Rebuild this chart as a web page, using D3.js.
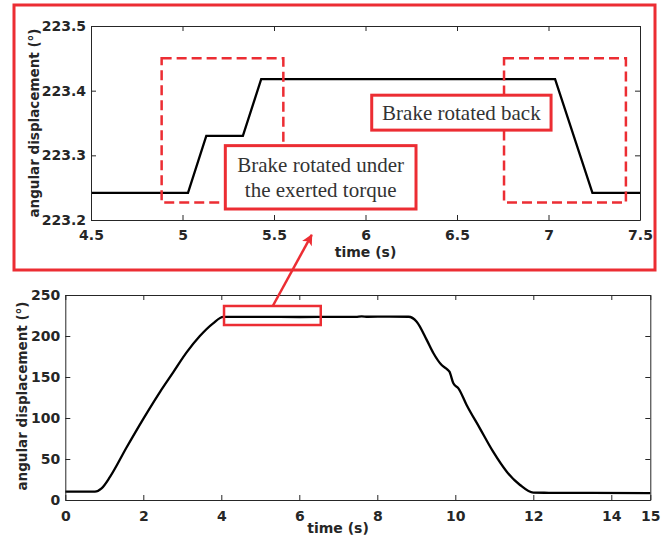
<!DOCTYPE html>
<html>
<head>
<meta charset="utf-8">
<script src="https://cdn.jsdelivr.net/npm/d3@7"></script>
<style>
  body { margin: 0; background: #fff; }
  .tick text { font-family: "DejaVu Sans", sans-serif; font-weight: bold; font-size: 14px; fill: #262626; }
  .tick line, .domain { stroke: #262626; }
  .axisTitle { font-family: "DejaVu Sans", sans-serif; font-weight: bold; fill: #262626; }
  .note { font-family: "Liberation Serif", "Times New Roman", serif; font-size: 21px; fill: #333; }
</style>
</head>
<body>
<div id="chart"></div>
<script>
// zoomed view (top) - time in s, angle in degrees
var zoomTime  = [4.5, 5.03, 5.13, 5.33, 5.43, 7.036, 7.24, 7.5];
var zoomAngle = [223.242, 223.242, 223.33, 223.33, 223.418, 223.418, 223.242, 223.242];
var zoomXTicks = [4.5, 5, 5.5, 6, 6.5, 7, 7.5];
var zoomYTicks = [223.2, 223.3, 223.4, 223.5];

// full run (bottom)
var fullTime  = [0, 0.4, 0.76, 0.93, 1.15, 1.57, 2.0, 2.43, 2.77, 3.11, 3.45, 3.79, 4.05, 5, 6, 7, 7.45, 7.6, 7.75, 8.3, 8.8, 9.01, 9.27, 9.44, 9.65, 9.8, 9.85, 9.95, 10.08, 10.29, 10.63, 10.97, 11.32, 11.66, 12.0, 12.4, 13.5, 15];
var fullAngle = [10.2, 10.1, 10.2, 14.2, 28.5, 64, 99, 132, 156, 180, 200, 215.5, 223.3, 223.3, 223.2, 223.3, 223.3, 223.9, 223.5, 223.6, 223.5, 217.5, 195, 179, 164.6, 159, 156.5, 142.3, 136.2, 115.9, 87.4, 58.9, 34.5, 18.3, 8.9, 8.8, 8.6, 8.5];
var fullXTicks = [0, 2, 4, 6, 8, 10, 12, 14, 15];
var fullYTicks = [0, 50, 100, 150, 200, 250];

// annotations (data units of the zoomed axes)
var dashedBoxes = [
  {x0: 4.886, x1: 5.551, y0: 223.227, y1: 223.45},
  {x0: 6.757, x1: 7.423, y0: 223.227, y1: 223.45}
];
var notes = [
  {x0: 5.234, x1: 6.276, y0: 223.217, y1: 223.315, lines: ["Brake rotated under", "the exerted torque"]},
  {x0: 6.034, x1: 7.014, y0: 223.339, y1: 223.393, lines: ["Brake rotated back"]}
];
var zoomRegion = {x0: 4.07, x1: 6.55, y0: 213.4, y1: 236.6};
var arrowFrom = {t: 5.32, v: 236.6};      // bottom axes
var arrowTo   = {t: 5.706, v: 223.177};   // top axes

var red = "#ec2d33";
var width = 671, height = 548;

var svg = d3.select("#chart").append("svg")
  .attr("width", width)
  .attr("height", height);

svg.append("defs").append("marker")
  .attr("id", "head")
  .attr("viewBox", "0 0 10 10")
  .attr("refX", 9).attr("refY", 5)
  .attr("markerWidth", 13).attr("markerHeight", 11)
  .attr("markerUnits", "userSpaceOnUse")
  .attr("orient", "auto")
  .append("path")
  .attr("d", "M0,0 L10,5 L0,10 L2.5,5 z")
  .attr("fill", red);

// ---- top (zoomed) chart ----
var topBox = {left: 91, right: 640, top: 26, bottom: 220};
var xz = d3.scaleLinear().domain([4.5, 7.5]).range([topBox.left, topBox.right]);
var yz = d3.scaleLinear().domain([223.2, 223.5]).range([topBox.bottom, topBox.top]);

// outer red frame
svg.append("rect")
  .attr("x", 14).attr("y", 5)
  .attr("width", 641).attr("height", 265)
  .attr("fill", "none")
  .attr("stroke", red)
  .attr("stroke-width", 3);

var gTop = svg.append("g");

gTop.append("path")
  .datum(d3.range(zoomTime.length))
  .attr("fill", "none")
  .attr("stroke", "#000")
  .attr("stroke-width", 2.3)
  .attr("d", d3.line().x(function(i){ return xz(zoomTime[i]); }).y(function(i){ return yz(zoomAngle[i]); }));

gTop.selectAll(".dashBox")
  .data(dashedBoxes)
  .enter()
  .append("rect")
  .attr("class", "dashBox")
  .attr("x", function(d){ return xz(d.x0); })
  .attr("y", function(d){ return yz(d.y1); })
  .attr("width", function(d){ return xz(d.x1) - xz(d.x0); })
  .attr("height", function(d){ return yz(d.y0) - yz(d.y1); })
  .attr("fill", "none")
  .attr("stroke", red)
  .attr("stroke-width", 2.5)
  .attr("stroke-dasharray", "10,5");

// axes of top chart
gTop.append("g")
  .attr("transform", "translate(0," + topBox.bottom + ")")
  .call(d3.axisBottom(xz).tickValues(zoomXTicks).tickFormat(function(d){ return String(d); })
    .tickSizeInner(-5).tickSizeOuter(0).tickPadding(10));
gTop.append("g")
  .attr("transform", "translate(0," + topBox.top + ")")
  .call(d3.axisTop(xz).tickValues(zoomXTicks).tickFormat("").tickSizeInner(-5).tickSizeOuter(0));
gTop.append("g")
  .attr("transform", "translate(" + topBox.left + ",0)")
  .call(d3.axisLeft(yz).tickValues(zoomYTicks).tickFormat(d3.format(".1f"))
    .tickSizeInner(-5).tickSizeOuter(0).tickPadding(5));
gTop.append("g")
  .attr("transform", "translate(" + topBox.right + ",0)")
  .call(d3.axisLeft(yz).tickValues(zoomYTicks).tickFormat("").tickSizeInner(5).tickSizeOuter(0));

// annotation boxes
var noteG = gTop.selectAll(".noteBox")
  .data(notes)
  .enter()
  .append("g")
  .attr("class", "noteBox");
noteG.append("rect")
  .attr("x", function(d){ return xz(d.x0); })
  .attr("y", function(d){ return yz(d.y1); })
  .attr("width", function(d){ return xz(d.x1) - xz(d.x0); })
  .attr("height", function(d){ return yz(d.y0) - yz(d.y1); })
  .attr("fill", "#fff")
  .attr("stroke", red)
  .attr("stroke-width", 3);
noteG.each(function(d){
  var g = d3.select(this);
  var cx = (xz(d.x0) + xz(d.x1)) / 2;
  var cy = (yz(d.y0) + yz(d.y1)) / 2;
  var lh = 25;
  d.lines.forEach(function(line, i){
    g.append("text")
      .attr("class", "note")
      .attr("x", cx)
      .attr("y", cy + (i - (d.lines.length - 1) / 2) * lh + 7)
      .attr("text-anchor", "middle")
      .text(line);
  });
});

gTop.append("text")
  .attr("class", "axisTitle")
  .attr("x", (topBox.left + topBox.right) / 2)
  .attr("y", 257)
  .attr("text-anchor", "middle")
  .style("font-size", "14px")
  .text("time (s)");
gTop.append("text")
  .attr("class", "axisTitle")
  .attr("transform", "translate(39," + (topBox.top + topBox.bottom) / 2 + ") rotate(-90)")
  .attr("text-anchor", "middle")
  .style("font-size", "13.5px")
  .text("angular displacement (°)");

// ---- bottom (full) chart ----
var bot = {left: 65.3, right: 650.3, top: 295, bottom: 500};
var xf = d3.scaleLinear().domain([0, 15]).range([bot.left, bot.right]);
var yf = d3.scaleLinear().domain([0, 250]).range([bot.bottom, bot.top]);

var gBot = svg.append("g");

gBot.append("path")
  .datum(d3.range(fullTime.length))
  .attr("fill", "none")
  .attr("stroke", "#000")
  .attr("stroke-width", 2.3)
  .attr("d", d3.line().curve(d3.curveMonotoneX)
    .x(function(i){ return xf(fullTime[i]); })
    .y(function(i){ return yf(fullAngle[i]); }));

gBot.append("g")
  .attr("transform", "translate(0," + bot.bottom + ")")
  .call(d3.axisBottom(xf).tickValues(fullXTicks).tickFormat(d3.format("d"))
    .tickSizeInner(-5).tickSizeOuter(0).tickPadding(11));
gBot.append("g")
  .attr("transform", "translate(0," + bot.top + ")")
  .call(d3.axisTop(xf).tickValues(fullXTicks).tickFormat("").tickSizeInner(-5).tickSizeOuter(0));
gBot.append("g")
  .attr("transform", "translate(" + bot.left + ",0)")
  .call(d3.axisLeft(yf).tickValues(fullYTicks).tickFormat(d3.format("d"))
    .tickSizeInner(-5).tickSizeOuter(0).tickPadding(5));
gBot.append("g")
  .attr("transform", "translate(" + bot.right + ",0)")
  .call(d3.axisLeft(yf).tickValues(fullYTicks).tickFormat("").tickSizeInner(5).tickSizeOuter(0));

gBot.append("rect")
  .attr("x", xf(zoomRegion.x0))
  .attr("y", yf(zoomRegion.y1))
  .attr("width", xf(zoomRegion.x1) - xf(zoomRegion.x0))
  .attr("height", yf(zoomRegion.y0) - yf(zoomRegion.y1))
  .attr("fill", "none")
  .attr("stroke", red)
  .attr("stroke-width", 2.5);

gBot.append("text")
  .attr("class", "axisTitle")
  .attr("x", 338)
  .attr("y", 533)
  .attr("text-anchor", "middle")
  .style("font-size", "14px")
  .text("time (s)");
gBot.append("text")
  .attr("class", "axisTitle")
  .attr("transform", "translate(27," + 396 + ") rotate(-90)")
  .attr("text-anchor", "middle")
  .style("font-size", "13.5px")
  .text("angular displacement (°)");

// arrow linking the zoom region to the top chart
svg.append("line")
  .attr("x1", xf(arrowFrom.t)).attr("y1", yf(arrowFrom.v))
  .attr("x2", xz(arrowTo.t)).attr("y2", yz(arrowTo.v))
  .attr("stroke", red)
  .attr("stroke-width", 2.5)
  .attr("marker-end", "url(#head)");
</script>
</body>
</html>
